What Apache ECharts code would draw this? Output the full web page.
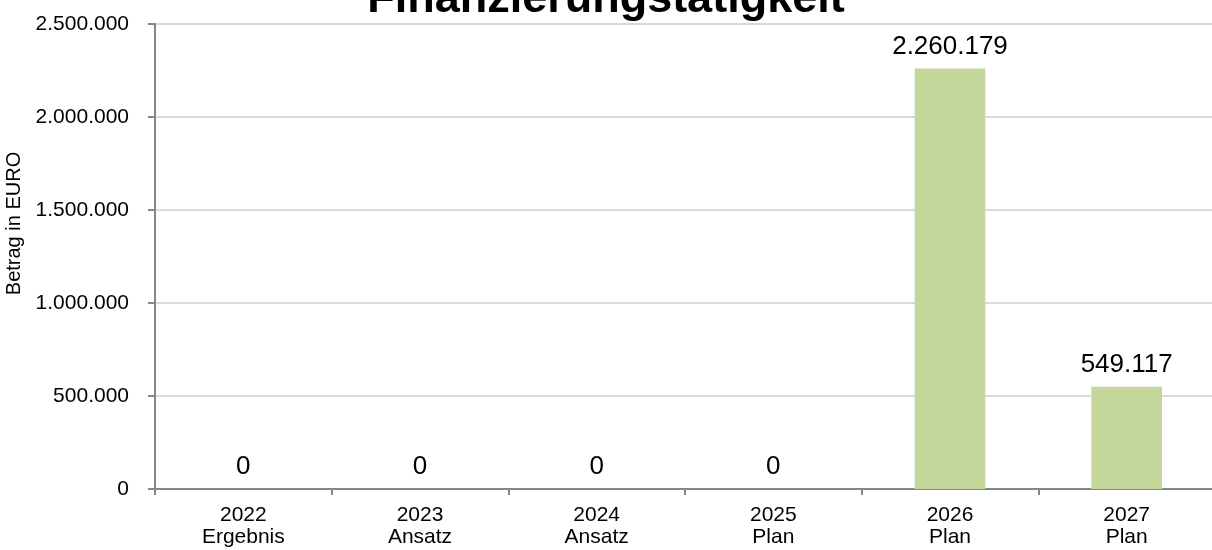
<!DOCTYPE html>
<html>
<head>
<meta charset="utf-8">
<script src="https://cdn.jsdelivr.net/npm/echarts@6/dist/echarts.min.js"></script>
<style>
  html, body { margin: 0; padding: 0; background: #fff; }
  #chart { width: 1212px; height: 550px; }
</style>
</head>
<body>
<div id="chart"></div>
<script>
// Jahre und Art der Werte (Ergebnis / Ansatz / Plan)
const years = ['2022', '2023', '2024', '2025', '2026', '2027'];
const kinds = ['Ergebnis', 'Ansatz', 'Ansatz', 'Plan', 'Plan', 'Plan'];
// Beträge in Euro
const amounts = [0, 0, 0, 0, 2260179, 549117];
// Achsenbereich
const yMin = 0;
const yMax = 2500000;
const yStep = 500000;

const categories = years.map((y, i) => y + '\n' + kinds[i]);
const FONT = 'Liberation Sans, Arial, sans-serif';

function fmt(v) {
  return String(Math.round(v)).replace(/\B(?=(\d{3})+(?!\d))/g, '.');
}

const chart = echarts.init(document.getElementById('chart'), null, { renderer: 'canvas' });
chart.setOption({
  animation: false,
  backgroundColor: '#ffffff',
  title: {
    text: 'Finanzierungstätigkeit',
    left: 'center',
    top: -28,
    textStyle: {
      fontFamily: FONT,
      fontSize: 45,
      fontWeight: 'bold',
      color: '#000'
    }
  },
  grid: {
    left: 155, right: -3, top: 24, bottom: 61,
    containLabel: false,
    outerBoundsMode: 'none'
  },
  xAxis: {
    type: 'category',
    data: categories,
    boundaryGap: true,
    axisLine: { lineStyle: { color: '#868686', width: 2 } },
    axisTick: { show: true, alignWithLabel: false, length: 6, lineStyle: { color: '#868686', width: 2 } },
    axisLabel: {
      color: '#000',
      fontFamily: FONT,
      fontSize: 21,
      lineHeight: 22,
      margin: 15
    },
    splitLine: { show: false }
  },
  yAxis: {
    type: 'value',
    min: yMin,
    max: yMax,
    interval: yStep,
    name: 'Betrag in EURO',
    nameLocation: 'middle',
    nameRotate: 90,
    nameGap: 112,
    nameTextStyle: {
      color: '#000',
      fontFamily: FONT,
      fontSize: 20,
      padding: [0, 0, 0, 66]
    },
    axisLine: { show: true, lineStyle: { color: '#868686', width: 2 } },
    axisTick: { show: true, length: 7, lineStyle: { color: '#868686', width: 2 } },
    axisLabel: {
      color: '#000',
      fontFamily: FONT,
      fontSize: 21,
      margin: 26,
      formatter: v => fmt(v)
    },
    splitLine: { show: true, lineStyle: { color: '#d9d9d9', width: 2 } }
  },
  series: [{
    type: 'bar',
    data: amounts,
    barWidth: '40%',
    itemStyle: { color: '#c4d79b' },
    label: {
      show: true,
      position: 'top',
      distance: 9,
      color: '#000',
      fontFamily: FONT,
      fontSize: 26,
      formatter: p => fmt(p.value)
    }
  }]
});
</script>
</body>
</html>
